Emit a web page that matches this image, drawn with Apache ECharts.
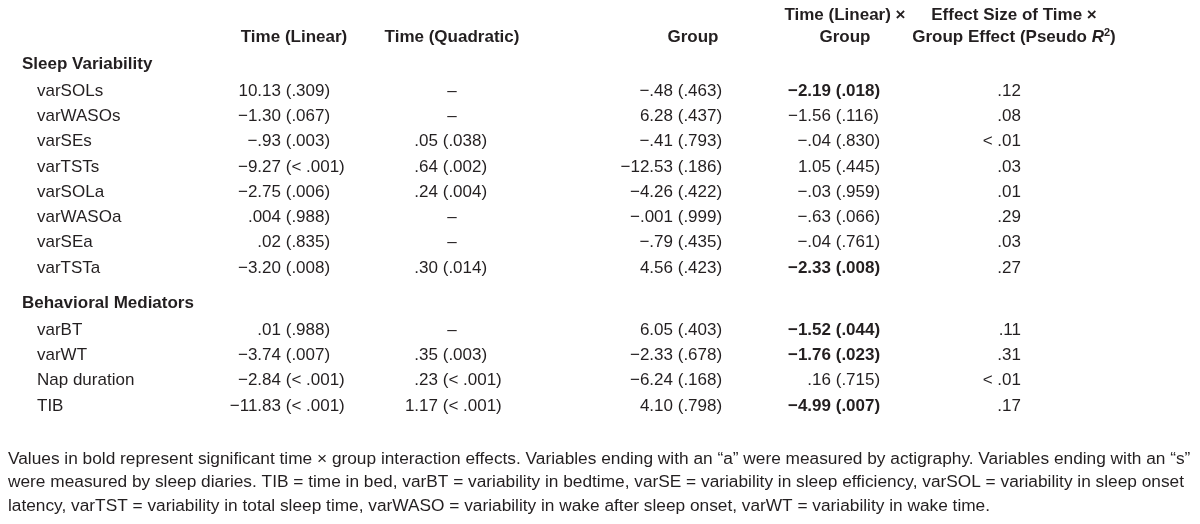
<!DOCTYPE html>
<html><head><meta charset="utf-8">
<script src="https://cdn.jsdelivr.net/npm/echarts@6/dist/echarts.min.js"></script>
<style>html,body{margin:0;padding:0;background:#fff}#c{width:1200px;height:524px}</style>
</head><body><div id="c"></div>
<script>
// ---------- DATA ----------
const sections = ["Sleep Variability", "Behavioral Mediators"];
const rowLabels = ["varSOLs","varWASOs","varSEs","varTSTs","varSOLa","varWASOa","varSEa","varTSTa","varBT","varWT","Nap duration","TIB"];
const rowSection = [0,0,0,0,0,0,0,0,1,1,1,1];
const headerLine1 = ["", "", "", "Time (Linear) ×", "Effect Size of Time ×"];
const headerLine2 = ["Time (Linear)", "Time (Quadratic)", "Group", "Group", "Group Effect (Pseudo {i|R}{sup|2})"];
const linearCoef = ["10.13","−1.30","−.93","−9.27","−2.75",".004",".02","−3.20",".01","−3.74","−2.84","−11.83"];
const linearP    = [".309",".067",".003","< .001",".006",".988",".835",".008",".988",".007","< .001","< .001"];
const quadCoef   = [null,null,".05",".64",".24",null,null,".30",null,".35",".23","1.17"];
const quadP      = [null,null,".038",".002",".004",null,null,".014",null,".003","< .001","< .001"];
const groupCoef  = ["−.48","6.28","−.41","−12.53","−4.26","−.001","−.79","4.56","6.05","−2.33","−6.24","4.10"];
const groupP     = [".463",".437",".793",".186",".422",".999",".435",".423",".403",".678",".168",".798"];
const interCoef  = ["−2.19","−1.56","−.04","1.05","−.03","−.63","−.04","−2.33","−1.52","−1.76",".16","−4.99"];
const interP     = [".018",".116",".830",".445",".959",".066",".761",".008",".044",".023",".715",".007"];
const interSig   = [true,false,false,false,false,false,false,true,true,true,false,true];
const effectSize = [".12",".08","< .01",".03",".01",".29",".03",".27",".11",".31","< .01",".17"];
const footnote = [
  "Values in bold represent significant time × group interaction effects. Variables ending with an “a” were measured by actigraphy. Variables ending with an “s”",
  "were measured by sleep diaries. TIB = time in bed, varBT = variability in bedtime, varSE = variability in sleep efficiency, varSOL = variability in sleep onset",
  "latency, varTST = variability in total sleep time, varWASO = variability in wake after sleep onset, varWT = variability in wake time."
];

// ---------- LAYOUT ----------
const FONT = '"Liberation Sans", Arial, sans-serif';
const COLOR = '#231f20';
const FS = 17;
const ROW_PX = 25.3;          // pixel pitch of one body row
const FIRST_ROW_PX = 91;      // pixel centre of first body row
const SECTION_GAP = 1.45;     // extra rows between sections
const SECTION_OFFSET = 1.07;  // section title above first row (rows)
const HEAD2_OFFSET = 2.13, HEAD1_OFFSET = 3.0; // header lines above first row
const labelX = 37, sectionX = 22;
const pairAnchor = [281, 438, 673, 831];
const dashCenter = [294, 452];
const headerCenter = [294, 452, 693, 845, 1014];
const effectRight = 1021;

function rowY(i){ return i + rowSection[i] * SECTION_GAP; }

// build the cell list from the data arrays
const cells = [];
const coefCols = [[linearCoef, linearP], [quadCoef, quadP], [groupCoef, groupP], [interCoef, interP]];
headerLine1.forEach((t, c) => { if (t) cells.push({kind:'header', x: headerCenter[c], y: -HEAD1_OFFSET, text: t}); });
headerLine2.forEach((t, c) => cells.push({kind:'header', x: headerCenter[c], y: -HEAD2_OFFSET, text: t}));
sections.forEach((s, k) => {
  const first = rowSection.indexOf(k);
  cells.push({kind:'section', x: sectionX, y: rowY(first) - SECTION_OFFSET, text: s});
});
rowLabels.forEach((lab, i) => {
  const y = rowY(i);
  cells.push({kind:'label', x: labelX, y, text: lab});
  coefCols.forEach(([coef, p], c) => {
    if (coef[i] == null) cells.push({kind:'dash', x: dashCenter[c], y, text: '–'});
    else cells.push({kind:'pair', x: pairAnchor[c], y, coef: coef[i], p: p[i], bold: c === 3 && interSig[i]});
  });
  cells.push({kind:'right', x: effectRight, y, text: effectSize[i]});
});

const chart = echarts.init(document.getElementById('c'), null, {renderer: 'canvas'});
function txt(x, y, text, align, bold, extra){
  return {type:'text', x, y, style: Object.assign({
    text, fill: COLOR, align, verticalAlign: 'middle',
    font: (bold ? 'bold ' : '') + FS + 'px ' + FONT
  }, extra || {})};
}
chart.setOption({
  animation: false,
  backgroundColor: '#ffffff',
  title: {
    text: footnote.join('\n'),
    left: 3, top: 442,
    textStyle: {fontFamily: FONT, fontSize: 17.3, fontWeight: 'normal', color: COLOR, lineHeight: 23.5}
  },
  grid: {left: 0, right: 0, top: 0, bottom: 0},
  xAxis: {type: 'value', min: 0, max: 1200, show: false},
  yAxis: {type: 'value', inverse: true, min: -FIRST_ROW_PX / ROW_PX, max: (524 - FIRST_ROW_PX) / ROW_PX, show: false},
  series: [{
    type: 'custom',
    silent: true,
    data: cells.map(c => [c.x, c.y]),
    renderItem: function(params, api){
      const cell = cells[params.dataIndex];
      const pt = api.coord([api.value(0), api.value(1)]);
      const x = pt[0], y = pt[1];
      switch (cell.kind) {
        case 'header':
          return {type:'text', x, y, style:{
            text: cell.text, fill: COLOR, align:'center', verticalAlign:'middle',
            font: 'bold ' + FS + 'px ' + FONT,
            rich: {
              i: {fontFamily: FONT, fontSize: FS, fontWeight:'bold', fontStyle:'italic', fill: COLOR},
              sup: {fontFamily: FONT, fontSize: 11, fontWeight:'bold', fill: COLOR, verticalAlign:'top', padding:[0,0,8,0]}
            }
          }};
        case 'section': return txt(x, y, cell.text, 'left', true);
        case 'label': return txt(x, y, cell.text, 'left', false);
        case 'dash': return txt(x, y, cell.text, 'center', false);
        case 'right': return txt(x, y, cell.text, 'right', false);
        case 'pair':
          return {type:'group', children:[
            txt(x, y, cell.coef, 'right', cell.bold),
            txt(x, y, ' (' + cell.p + ')', 'left', cell.bold)
          ]};
      }
    }
  }]
});
</script></body></html>
